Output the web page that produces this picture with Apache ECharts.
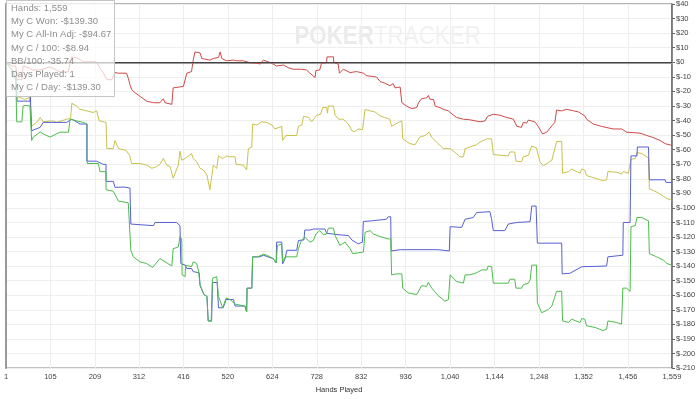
<!DOCTYPE html>
<html><head><meta charset="utf-8">
<script src="https://cdn.jsdelivr.net/npm/echarts@6/dist/echarts.min.js"></script>
<style>html,body{margin:0;padding:0;background:#fff}#c{width:700px;height:399px}</style>
</head><body><div id="c"></div>
<script>
const totalHands = 1559;
const tickHands = [1,105,209,312,416,520,624,728,832,936,1040,1144,1248,1352,1456,1559];
const legendLines = ['Hands: 1,559','My C Won: -$139.30','My C All-In Adj: -$94.67','My C / 100: -$8.94','BB/100: -35.74','Days Played: 1','My C / Day: -$139.30'];

// [hand, $]
const wonGreen = [[1,0],[15,-5.3],[24,-12.3],[26,-40.9],[38,-40.9],[41,-30.1],[48,-29.6],[57,-30.1],[61,-53.7],[65,-51.4],[81,-47.8],[88,-49.2],[104,-51.4],[127,-48.0],[147,-48.0],[151,-39.1],[166,-40.2],[182,-41.3],[191,-42.4],[191,-69.5],[217,-69.5],[221,-75.1],[235,-75.1],[235,-87.5],[252,-88.6],[264,-95.3],[287,-96.5],[293,-129.1],[299,-133.6],[314,-137.0],[330,-138.2],[344,-140.9],[361,-134.8],[373,-137.0],[389,-139.9],[392,-128.0],[404,-126.9],[408,-119.7],[412,-121.3],[413,-146.0],[420,-147.2],[421,-139.3],[435,-140.4],[439,-137.0],[447,-138.2],[451,-142.6],[455,-152.8],[464,-159.5],[471,-160.7],[474,-177.6],[481,-178.0],[484,-148.3],[494,-147.2],[498,-160.7],[508,-168.6],[516,-161.8],[525,-162.9],[537,-166.1],[537,-167.4],[560,-167.4],[564,-171.5],[565,-155.1],[576,-155.1],[578,-133.6],[590,-133.6],[603,-131.8],[611,-132.5],[626,-134.8],[633,-137.7],[636,-125.7],[646,-124.9],[648,-137.0],[654,-133.6],[681,-133.6],[685,-128.0],[692,-122.4],[700,-120.1],[712,-123.5],[720,-122.4],[726,-117.9],[735,-115.6],[743,-118.3],[751,-117.9],[755,-113.9],[767,-113.9],[771,-119.0],[782,-125.7],[794,-123.5],[806,-128.0],[812,-131.4],[837,-130.3],[841,-116.8],[853,-115.6],[860,-117.9],[876,-119.7],[895,-121.3],[901,-121.3],[903,-146.0],[915,-145.3],[927,-145.3],[929,-155.1],[942,-158.4],[962,-159.5],[973,-153.4],[985,-153.9],[989,-151.2],[997,-155.1],[1012,-160.2],[1028,-164.1],[1036,-162.9],[1040,-146.0],[1055,-150.5],[1071,-151.7],[1075,-146.0],[1086,-146.0],[1102,-144.5],[1114,-142.6],[1126,-142.6],[1129,-139.9],[1137,-140.4],[1141,-151.7],[1176,-151.7],[1180,-149.0],[1191,-149.0],[1194,-155.1],[1207,-155.1],[1211,-152.8],[1223,-151.7],[1227,-149.4],[1231,-139.3],[1242,-139.3],[1244,-165.2],[1254,-172.0],[1270,-169.7],[1278,-167.4],[1289,-157.3],[1301,-157.3],[1303,-177.6],[1317,-178.7],[1324,-176.4],[1344,-178.7],[1348,-176.0],[1355,-176.4],[1359,-180.9],[1379,-182.1],[1398,-184.3],[1406,-183.2],[1409,-177.6],[1430,-178.7],[1441,-179.8],[1444,-155.1],[1453,-155.1],[1461,-157.3],[1463,-112.9],[1473,-112.2],[1477,-106.6],[1488,-106.6],[1504,-108.9],[1506,-131.4],[1523,-133.6],[1539,-135.9],[1547,-138.2],[1559,-139.3]];

const showdownBlue = [[1,0],[15,-5.3],[24,-10.7],[27,-26.7],[57,-26.7],[58,-23.5],[61,-23.5],[61,-47.0],[65,-45.8],[81,-44.7],[88,-41.3],[112,-41.3],[143,-41.3],[155,-39.1],[174,-42.4],[190,-42.4],[190,-67.9],[213,-67.9],[228,-70.1],[235,-70.1],[235,-81.8],[252,-81.8],[256,-85.9],[277,-85.7],[291,-86.4],[293,-111.1],[346,-112.2],[350,-110.0],[400,-110.0],[408,-112.2],[410,-138.2],[420,-139.3],[424,-141.6],[435,-141.6],[439,-143.8],[453,-144.5],[455,-153.4],[464,-159.5],[471,-160.7],[474,-177.6],[482,-177.6],[484,-151.2],[495,-151.2],[498,-168.6],[509,-168.6],[516,-162.9],[533,-162.9],[537,-167.4],[560,-167.4],[564,-171.5],[565,-155.1],[576,-155.1],[578,-133.6],[595,-133.6],[603,-132.5],[626,-134.8],[633,-137.7],[634,-123.5],[646,-123.5],[648,-138.4],[654,-134.8],[658,-129.1],[681,-129.1],[685,-122.4],[698,-122.0],[700,-115.2],[712,-115.2],[720,-114.5],[747,-114.5],[751,-117.4],[775,-118.3],[802,-119.0],[810,-122.0],[825,-124.7],[835,-123.5],[837,-109.3],[856,-108.9],[859,-107.8],[891,-107.8],[895,-106.1],[901,-106.1],[902,-129.6],[923,-128.7],[1012,-128.7],[1015,-129.6],[1038,-129.6],[1040,-112.9],[1067,-113.4],[1075,-107.8],[1094,-106.6],[1102,-103.2],[1133,-102.6],[1137,-107.8],[1141,-115.6],[1168,-115.6],[1176,-111.1],[1196,-110.0],[1227,-109.5],[1231,-98.7],[1241,-98.7],[1244,-124.2],[1301,-124.2],[1302,-145.3],[1320,-144.9],[1324,-143.8],[1348,-140.4],[1406,-139.9],[1409,-133.6],[1444,-132.5],[1445,-110.0],[1461,-110.0],[1463,-64.3],[1477,-64.3],[1478,-58.2],[1504,-58.2],[1506,-80.7],[1543,-80.7],[1545,-82.5],[1559,-82.5]];

const allInYellow = [[1,0],[15,-5.3],[24,-10.7],[27,-23.5],[45,-25.5],[57,-24.2],[61,-43.8],[65,-44.7],[73,-41.3],[81,-37.9],[88,-40.9],[108,-40.2],[120,-41.3],[143,-39.1],[152,-38.6],[155,-28.2],[166,-30.1],[174,-32.3],[190,-33.4],[205,-34.5],[213,-33.4],[219,-40.2],[235,-41.3],[237,-59.3],[252,-59.3],[256,-53.7],[264,-59.3],[282,-60.5],[285,-59.3],[290,-63.9],[295,-69.5],[314,-69.5],[330,-70.6],[342,-72.8],[353,-71.7],[361,-70.1],[369,-66.1],[377,-70.6],[385,-71.7],[392,-79.6],[396,-80.7],[404,-70.6],[408,-61.1],[412,-67.2],[420,-66.1],[428,-64.3],[435,-62.7],[439,-66.1],[447,-68.3],[455,-72.8],[463,-74.0],[471,-77.4],[478,-87.5],[482,-86.4],[486,-70.6],[494,-72.8],[498,-64.3],[508,-66.1],[517,-64.3],[525,-64.9],[537,-64.9],[539,-70.1],[556,-70.6],[560,-69.5],[564,-74.0],[568,-59.3],[576,-58.2],[578,-42.4],[588,-43.1],[599,-40.9],[611,-41.3],[623,-43.1],[630,-45.8],[646,-44.0],[648,-53.7],[656,-50.3],[681,-50.3],[685,-44.0],[693,-43.1],[697,-37.2],[709,-37.8],[716,-40.9],[724,-37.8],[728,-36.4],[737,-35.7],[742,-31.1],[751,-31.1],[753,-35.0],[755,-30.1],[767,-30.1],[771,-36.4],[779,-39.1],[790,-39.1],[802,-42.4],[810,-47.0],[817,-47.6],[825,-45.8],[835,-46.3],[841,-32.3],[853,-33.4],[864,-34.1],[876,-36.8],[887,-37.9],[899,-39.1],[903,-44.0],[919,-41.3],[927,-40.2],[929,-52.6],[946,-55.9],[958,-56.6],[969,-51.4],[981,-50.3],[991,-48.0],[997,-51.4],[1008,-54.8],[1024,-59.3],[1040,-59.3],[1055,-62.7],[1063,-64.9],[1071,-64.9],[1075,-59.3],[1086,-58.2],[1102,-56.6],[1110,-54.8],[1126,-52.6],[1137,-52.6],[1141,-63.4],[1176,-64.3],[1180,-61.6],[1191,-61.6],[1194,-67.9],[1207,-68.3],[1211,-64.9],[1223,-63.9],[1231,-57.5],[1242,-58.9],[1250,-68.3],[1258,-71.0],[1270,-68.8],[1278,-67.2],[1289,-54.4],[1301,-54.4],[1303,-76.2],[1317,-75.1],[1324,-73.3],[1344,-76.2],[1348,-73.3],[1355,-74.0],[1359,-77.8],[1379,-79.6],[1398,-81.4],[1406,-80.7],[1409,-75.1],[1430,-75.5],[1441,-76.9],[1445,-75.1],[1457,-76.2],[1461,-76.9],[1463,-66.6],[1473,-66.1],[1477,-62.0],[1488,-62.7],[1504,-65.6],[1506,-86.8],[1523,-89.1],[1539,-92.0],[1547,-93.6],[1559,-94.7]];

const nonShowdownRed = [[1,0],[15,-2.6],[24,-2.6],[27,-12.0],[38,-12.0],[41,-2.6],[57,-3.9],[61,-5.3],[81,-5.3],[104,-3.2],[127,-6.6],[147,-6.6],[151,0.1],[155,3.7],[170,2.6],[182,0.3],[213,0.3],[221,-4.1],[229,-7.5],[237,-12.0],[248,-12.0],[256,-7.1],[264,-7.5],[283,-7.5],[287,-10.9],[291,-15.4],[295,-18.8],[303,-21.0],[314,-23.3],[330,-26.7],[346,-27.8],[361,-27.8],[369,-25.1],[373,-27.8],[389,-28.9],[392,-17.6],[416,-16.6],[424,-7.5],[435,-6.4],[439,1.5],[443,7.1],[455,6.4],[459,2.6],[478,1.5],[486,2.6],[498,3.3],[502,7.1],[506,2.6],[517,1.0],[533,1.5],[541,1.0],[556,1.0],[572,-0.3],[588,-0.7],[596,-1.2],[603,1.5],[615,0.3],[626,-1.2],[634,-2.6],[650,-1.9],[661,-3.7],[673,-4.8],[692,-4.8],[704,-5.3],[712,-7.5],[724,-10.5],[726,-5.7],[735,-5.3],[739,-0.7],[751,-0.3],[752,3.7],[767,3.7],[768,-0.3],[778,-1.2],[781,-7.5],[790,-4.8],[794,-5.7],[806,-7.1],[821,-6.4],[837,-7.5],[841,-6.4],[845,-9.3],[860,-9.8],[868,-10.2],[876,-13.2],[887,-14.3],[899,-16.1],[907,-14.7],[911,-17.6],[923,-17.0],[927,-27.8],[938,-30.1],[950,-31.8],[962,-31.1],[966,-27.8],[973,-25.1],[985,-24.4],[989,-22.8],[993,-25.5],[1001,-25.5],[1005,-30.1],[1016,-31.1],[1024,-32.3],[1036,-33.4],[1048,-36.4],[1055,-37.9],[1071,-39.1],[1086,-39.5],[1110,-40.9],[1122,-40.2],[1127,-37.2],[1141,-35.7],[1157,-36.4],[1172,-37.9],[1188,-39.1],[1196,-44.0],[1207,-44.7],[1211,-41.3],[1219,-41.8],[1223,-39.7],[1238,-40.9],[1246,-44.0],[1256,-49.2],[1266,-48.0],[1278,-43.6],[1285,-41.3],[1289,-32.8],[1301,-33.4],[1313,-32.3],[1317,-32.3],[1329,-33.4],[1340,-34.1],[1355,-36.8],[1359,-39.1],[1375,-42.4],[1394,-44.0],[1421,-45.8],[1441,-45.8],[1445,-45.3],[1453,-48.0],[1484,-48.7],[1500,-50.3],[1512,-51.4],[1531,-53.7],[1543,-55.9],[1559,-57.1]];

const categories = Array.from({length: totalHands}, (_, i) => String(i + 1));
const tickIdx = new Set(tickHands.map(h => h - 1));
const isTick = (i) => tickIdx.has(i);
const toData = arr => arr.map(p => [String(p[0]), p[1]]);
const FONT = 'Liberation Sans, Arial, sans-serif';

const chart = echarts.init(document.getElementById('c'), null, {renderer: 'canvas'});

function lineSeries(name, arr, color, z) {
  return {name, type: 'line', data: toData(arr), showSymbol: false, symbol: 'none',
    lineStyle: {color, width: 1}, itemStyle: {color}, animation: false, z, silent: true};
}

const legendGraphics = legendLines.map((t, i) => ({
  type: 'text', x: 11, y: 8.3 + i * 13.2, z: 101,
  style: {text: t, fill: '#8e8e8e', fontSize: 9.5, fontFamily: FONT, verticalAlign: 'middle'}
}));

chart.setOption({
  animation: false,
  backgroundColor: '#fff',
  grid: {left: 6, right: 28, top: 3, bottom: 26, show: true, borderColor: '#666', borderWidth: 1},
  xAxis: {
    type: 'category', data: categories, boundaryGap: false,
    name: 'Hands Played', nameLocation: 'middle', nameGap: 16,
    nameTextStyle: {fontSize: 7.5, color: '#333', fontFamily: FONT},
    axisLine: {show: true, lineStyle: {color: '#999', width: 2}},
    axisTick: {show: true, length: 2, interval: isTick, lineStyle: {color: '#999'}},
    axisLabel: {interval: isTick, fontSize: 7.5, color: '#444', fontFamily: FONT, margin: 5,
      formatter: v => Number(v).toLocaleString('en-US')},
    splitLine: {show: true, interval: isTick, lineStyle: {color: '#eeeeee', width: 1}}
  },
  yAxis: [{
    type: 'value', position: 'right', min: -210, max: 40, interval: 10,
    axisLine: {show: true, lineStyle: {color: '#666', width: 1.5}},
    axisTick: {show: true, length: 3, inside: false, lineStyle: {color: '#666'}},
    axisLabel: {fontSize: 7.5, color: '#444', fontFamily: FONT, margin: 4, formatter: v => '$' + v},
    splitLine: {show: true, lineStyle: {color: '#eeeeee', width: 1}}
  }, {
    type: 'value', position: 'left', min: -210, max: 40, interval: 10,
    axisLine: {show: true, onZero: false, lineStyle: {color: '#999', width: 2}},
    axisTick: {show: false}, axisLabel: {show: false}, splitLine: {show: false}
  }],
  graphic: [
    {type: 'text', x: 340, y: 37, z: 0, scaleX: 0.86, originX: 340, originY: 37,
      style: {text: '{a|POKER}{b|TRACKER}', align: 'center', verticalAlign: 'middle',
        rich: {a: {fontSize: 26, fontWeight: 'bold', fontFamily: FONT, fill: '#ebebeb'},
               b: {fontSize: 26, fontFamily: FONT, fill: '#f1f1f1'}}}},
    {type: 'rect', shape: {x: 6.5, y: 0.5, width: 108, height: 96}, z: 100,
      style: {fill: 'rgba(255,255,255,0.7)', stroke: '#c4c4c4', lineWidth: 1}},
    ...legendGraphics
  ],
  series: [
    {type: 'line', data: [], silent: true, z: 1,
      markLine: {silent: true, symbol: 'none', label: {show: false}, animation: false,
        lineStyle: {color: '#444', width: 1.2, type: 'solid'}, data: [{yAxis: 0}]}},
    lineSeries('My C All-In Adj', allInYellow, '#c9c24c', 2),
    lineSeries('Non-showdown', nonShowdownRed, '#cf4a46', 3),
    lineSeries('Showdown', showdownBlue, '#5660d4', 4),
    lineSeries('My C Won', wonGreen, '#4cbd4c', 5)
  ]
});
</script></body></html>
